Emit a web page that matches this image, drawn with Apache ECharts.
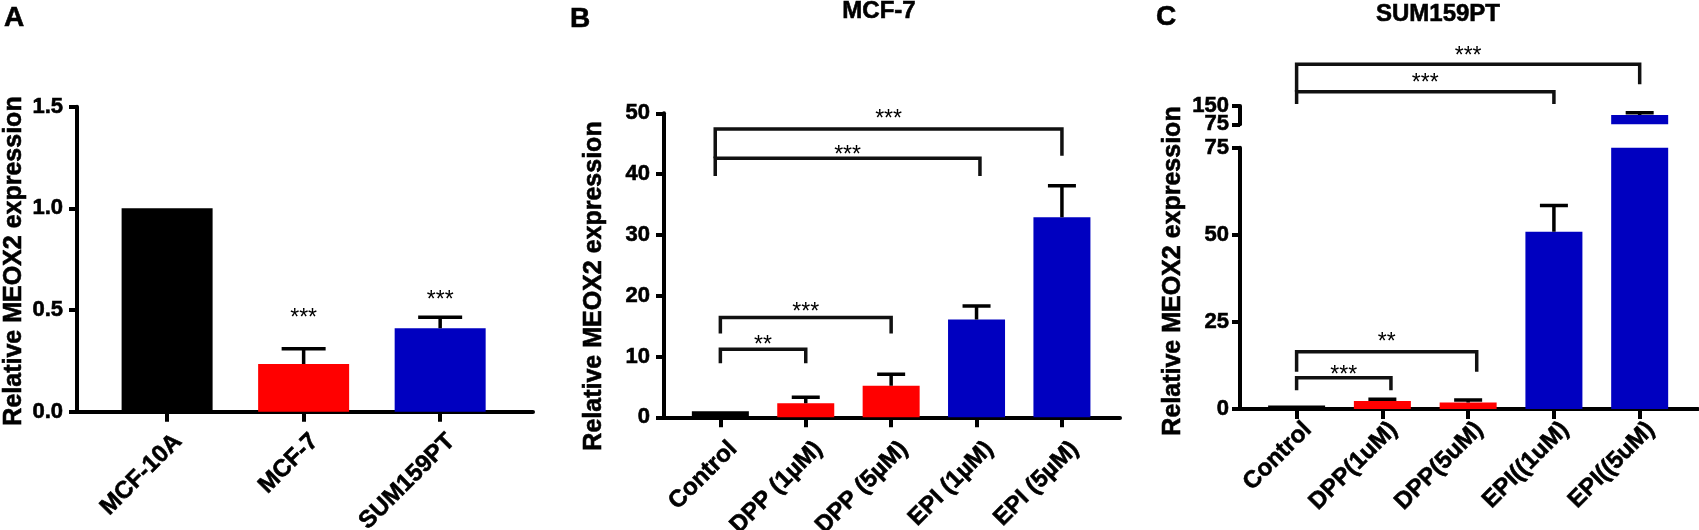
<!DOCTYPE html>
<html>
<head>
<meta charset="utf-8">
<title>MEOX2 expression</title>
<script src="https://cdn.jsdelivr.net/npm/echarts@6.0.0/dist/echarts.min.js"></script>
<style>
  html, body { margin: 0; padding: 0; background: #fff; }
  #chart { width: 1699px; height: 530px; }
</style>
</head>
<body>
<div id="chart"></div>
<script>
var FONT = '"Liberation Sans", Arial, Helvetica, sans-serif';

// A: cell lines
var aCats = ['MCF-10A', 'MCF-7', 'SUM159PT'];
var aMeans = [1.0, 0.235, 0.41];
var aErrs = [0, 0.075, 0.055];
var aColors = ['#000000', '#FF0000', '#0000C0'];
var aStars = ['', '***', '***'];
var aStarY = [0, 0.485, 0.574];

// B: MCF-7
var bCats = ['Control', 'DPP (1\u00b5M)', 'DPP (5\u00b5M)', 'EPI (1\u00b5M)', 'EPI (5\u00b5M)'];
var bMeans = [1.0, 2.3, 5.2, 16.1, 32.9];
var bErrs = [0, 1.0, 1.9, 2.2, 5.2];
var bColors = ['#000000', '#FF0000', '#FF0000', '#0000C0', '#0000C0'];
// brackets: left x, right x, bar y, left leg end, right leg end, star y, text
var bBrLeft = [0, 0, -0.06, -0.06];
var bBrRight = [1, 2, 3.04, 4];
var bBrTop = [11.2, 16.4, 42.6, 47.4];
var bBrLeftEnd = [8.9, 13.8, 39.7, 42.6];
var bBrRightEnd = [8.9, 13.8, 39.7, 43.0];
var bBrStarY = [12.8, 18.2, 44.1, 50.0];
var bBrText = ['**', '***', '***', '***'];

// C: SUM159PT (broken axis: 0-75 below, 75-150 above)
var cCats = ['Control', 'DPP(1uM)', 'DPP(5uM)', 'EPI((1uM)', 'EPI((5uM)'];
var cMeans = [1.0, 2.3, 1.9, 50.9, 113];
var cErrs = [0, 0.5, 0.7, 7.5, 9.5];
var cColors = ['#000000', '#FF0000', '#FF0000', '#0000C0', '#0000C0'];
var cLowBrLeft = [0, 0];
var cLowBrRight = [1.1, 2.1];
var cLowBrTop = [9.0, 16.4];
var cLowBrLeftEnd = [5.4, 10.7];
var cLowBrRightEnd = [5.4, 10.7];
var cLowBrStarY = [11.2, 20.9];
var cLowBrText = ['***', '**'];
var cUpBrLeft = [0, 0];
var cUpBrRight = [3, 4];
var cUpBrTop = [208.6, 320.9];
var cUpBrLeftEnd = [158.2, 208.6];
var cUpBrRightEnd = [158.2, 238.9];
var cUpBrStarY = [266.8, 377.4];
var cUpBrText = ['***', '***'];

function idx(arr, shift) {
  return arr.map(function (c, i) { return i + shift; });
}

function xAxisOf(grid, cats, shift, margin, show) {
  return {
    type: 'value', gridIndex: grid, show: show,
    min: -0.66, max: cats.length - 1 + 0.68,
    axisLine: { onZero: false, lineStyle: { color: '#000', width: 4 } },
    axisTick: { customValues: idx(cats, 0), length: 10, lineStyle: { color: '#000', width: 4 } },
    axisLabel: {
      customValues: idx(cats, shift), rotate: 45, margin: margin,
      color: '#000', fontWeight: 'bold', fontSize: 24, fontFamily: FONT,
      textBorderColor: '#000', textBorderWidth: 0.6,
      formatter: function (v) { return cats[Math.round(v)]; }
    },
    splitLine: { show: false }
  };
}

function yAxisOf(grid, min, max, interval, margin, fmt) {
  return {
    type: 'value', gridIndex: grid, min: min, max: max, interval: interval,
    axisLine: { show: true, onZero: false, lineStyle: { color: '#000', width: 4 } },
    axisTick: { show: true, length: 8, lineStyle: { color: '#000', width: 4 } },
    axisLabel: {
      margin: margin, color: '#000', fontWeight: 'bold', fontSize: 22, fontFamily: FONT,
      textBorderColor: '#000', textBorderWidth: 0.6,
      showMinLabel: true, showMaxLabel: true, hideOverlap: false,
      formatter: fmt
    },
    splitLine: { show: false }
  };
}

// upper segment of C: two left axes so that both labels (150 and 75) stay visible
var cUpperTop = yAxisOf(3, 75, 150, 75, 11);
cUpperTop.axisLabel.customValues = [150];
var cUpperLow = yAxisOf(3, 75, 150, 75, 11);
cUpperLow.position = 'left';
cUpperLow.offset = 0;
cUpperLow.axisLine.show = false;
cUpperLow.axisTick.show = false;
cUpperLow.axisLabel.customValues = [75];

function barSeries(grid, yIdx, means, colors, width) {
  return {
    type: 'bar', xAxisIndex: grid, yAxisIndex: yIdx, barWidth: width, clip: true,
    data: means.map(function (v, i) {
      return { value: [i, v], itemStyle: { color: colors[i] } };
    }),
    z: 2
  };
}

function errorSeries(grid, yIdx, means, errs, halfW) {
  return {
    type: 'custom', xAxisIndex: grid, yAxisIndex: yIdx, clip: true, z: 3,
    data: means.map(function (v, i) { return [i, v, errs[i]]; }),
    renderItem: function (params, api) {
      var e = api.value(2);
      if (!e) return;
      var p0 = api.coord([api.value(0), api.value(1)]);
      var p1 = api.coord([api.value(0), api.value(1) + e]);
      var st = { stroke: '#000', lineWidth: 3.5 };
      return {
        type: 'group',
        children: [
          { type: 'line', shape: { x1: p0[0], y1: p0[1], x2: p1[0], y2: p1[1] }, style: st },
          { type: 'line', shape: { x1: p1[0] - halfW, y1: p1[1], x2: p1[0] + halfW, y2: p1[1] }, style: st }
        ]
      };
    }
  };
}

function starText(x, y, text) {
  return {
    type: 'text', x: x, y: y + 6,
    style: {
      text: text, font: '23px ' + FONT, fill: '#000',
      align: 'center', verticalAlign: 'middle', textAlign: 'center', textVerticalAlign: 'middle'
    }
  };
}

function bracketSeries(grid, yIdx, left, right, top, leftEnd, rightEnd, starY, texts) {
  return {
    type: 'custom', xAxisIndex: grid, yAxisIndex: yIdx, clip: false, z: 4,
    data: left.map(function (l, i) { return [l, right[i], top[i], leftEnd[i], rightEnd[i], starY[i]]; }),
    renderItem: function (params, api) {
      var a = api.coord([api.value(0), api.value(3)]);
      var b = api.coord([api.value(0), api.value(2)]);
      var c = api.coord([api.value(1), api.value(2)]);
      var d = api.coord([api.value(1), api.value(4)]);
      var s = api.coord([(api.value(0) + api.value(1)) / 2, api.value(5)]);
      return {
        type: 'group',
        children: [
          { type: 'polyline', shape: { points: [a, b, c, d] }, style: { stroke: '#111', lineWidth: 3.5, fill: null } },
          starText(s[0], s[1], texts[params.dataIndex])
        ]
      };
    }
  };
}

function starSeries(grid, stars, starY) {
  return {
    type: 'custom', xAxisIndex: grid, yAxisIndex: grid, clip: false, z: 4,
    data: starY.map(function (v, i) { return [i, v]; }),
    renderItem: function (params, api) {
      var t = stars[params.dataIndex];
      if (!t) return;
      var p = api.coord([api.value(0), api.value(1)]);
      return starText(p[0], p[1], t);
    }
  };
}

function label(x, y, text, size, rot) {
  return {
    type: 'text', x: x, y: y, rotation: rot || 0,
    style: {
      text: text, font: 'bold ' + size + 'px ' + FONT, fill: '#000',
      stroke: '#000', lineWidth: 0.6,
      align: 'center', verticalAlign: 'middle', textAlign: 'center', textVerticalAlign: 'middle'
    }
  };
}

var yTitle = 'Relative MEOX2 expression';

var chart = echarts.init(document.getElementById('chart'));
chart.setOption({
  animation: false,
  grid: [
    { left: 77, top: 106.7, width: 456, height: 305, outerBoundsMode: 'none' },
    { left: 664, top: 113.3, width: 456, height: 304, outerBoundsMode: 'none' },
    { left: 1240, top: 147.7, width: 458, height: 261.3, outerBoundsMode: 'none' },
    { left: 1240, top: 106, width: 458, height: 18.3, outerBoundsMode: 'none' }
  ],
  xAxis: [
    xAxisOf(0, aCats, 0.08, 26, true),
    xAxisOf(1, bCats, 0.15, 28, true),
    xAxisOf(2, cCats, 0.13, 17, true),
    xAxisOf(3, cCats, 0.13, 17, false)
  ],
  yAxis: [
    yAxisOf(0, 0, 1.5, 0.5, 14, function (v) { return v.toFixed(1); }),
    yAxisOf(1, 0, 50, 10, 14),
    yAxisOf(2, 0, 75, 25, 11),
    cUpperTop,
    cUpperLow
  ],
  graphic: [
    label(14, 18, 'A', 28),
    label(580, 19, 'B', 28),
    label(1166, 17, 'C', 28),
    label(879, 11, 'MCF-7', 24),
    label(1438, 14, 'SUM159PT', 24),
    label(14, 261, yTitle, 25, Math.PI / 2),
    label(594, 286, yTitle, 25, Math.PI / 2),
    label(1173, 271, yTitle, 25, Math.PI / 2)
  ],
  series: [
    barSeries(0, 0, aMeans, aColors, 91),
    errorSeries(0, 0, aMeans, aErrs, 22),
    starSeries(0, aStars, aStarY),

    barSeries(1, 1, bMeans, bColors, 57),
    errorSeries(1, 1, bMeans, bErrs, 14),
    bracketSeries(1, 1, bBrLeft, bBrRight, bBrTop, bBrLeftEnd, bBrRightEnd, bBrStarY, bBrText),

    barSeries(2, 2, cMeans, cColors, 57),
    errorSeries(2, 2, cMeans, cErrs, 14),
    bracketSeries(2, 2, cLowBrLeft, cLowBrRight, cLowBrTop, cLowBrLeftEnd, cLowBrRightEnd, cLowBrStarY, cLowBrText),

    barSeries(3, 3, cMeans, cColors, 57),
    errorSeries(3, 3, cMeans, cErrs, 14),
    bracketSeries(3, 3, cUpBrLeft, cUpBrRight, cUpBrTop, cUpBrLeftEnd, cUpBrRightEnd, cUpBrStarY, cUpBrText)
  ]
});
</script>
</body>
</html>
